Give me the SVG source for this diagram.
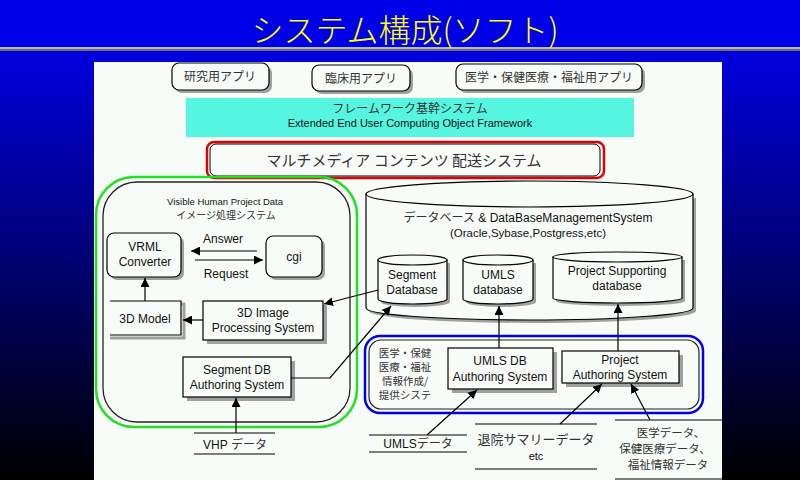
<svg xmlns="http://www.w3.org/2000/svg" width="800" height="480" viewBox="0 0 800 480">
<defs>
<linearGradient id="bg" x1="0" y1="0" x2="0" y2="1">
<stop offset="0" stop-color="#0000e8"/>
<stop offset="0.1" stop-color="#0000e0"/>
<stop offset="1" stop-color="#000000"/>
</linearGradient>
<marker id="ah" viewBox="0 0 10 10" refX="10" refY="5" markerWidth="9" markerHeight="9" markerUnits="userSpaceOnUse" orient="auto">
<path d="M0,0 L10,5 L0,10 Z" fill="#000"/>
</marker>
<style>
.jp{font-family:"Noto Sans CJK JP","Noto Sans",sans-serif;fill:#333;}
.en{font-family:"Liberation Sans",Arial,sans-serif;fill:#111;}
.box{fill:#f8fcf8;stroke:#000;stroke-width:1.2;}
.sh{fill:#a0a0a0;}
.ln{fill:none;stroke:#000;stroke-width:1.2;}
.c{text-anchor:middle;}
</style>
</defs>
<rect x="0" y="0" width="800" height="480" fill="url(#bg)"/>
<rect x="0" y="0" width="800" height="47" fill="#0000e8"/>
<rect x="0" y="47" width="800" height="2" fill="#b8b8b8"/>
<rect x="0" y="49" width="800" height="2" fill="#6c6c6c"/>
<text x="405" y="42" class="c" font-family="'Noto Sans CJK JP',sans-serif" font-size="32" font-weight="300" fill="#ffff00">システム構成(ソフト)</text>
<rect x="94" y="62" width="628" height="418" fill="#f8fcf8"/>

<g id="app1">
<rect x="175" y="66" width="97" height="27" rx="7" class="sh"/>
<rect x="172" y="63" width="97" height="27" rx="7" class="box"/>
<text x="220" y="81" class="jp c" font-size="12">研究用アプリ</text>
</g>
<g id="app2">
<rect x="315" y="68" width="98" height="26" rx="7" class="sh"/>
<rect x="312" y="65" width="98" height="26" rx="7" class="box"/>
<text x="361" y="83" class="jp c" font-size="12">臨床用アプリ</text>
</g>
<g id="app3">
<rect x="459" y="67" width="186" height="26" rx="7" class="sh"/>
<rect x="456" y="64" width="186" height="26" rx="7" class="box"/>
<text x="549" y="82" class="jp c" font-size="12">医学・保健医療・福祉用アプリ</text>
</g>
<g id="framework">
<rect x="186" y="98" width="448" height="39" fill="#55f5e0"/>
<text x="410" y="113" class="jp c" font-size="12">フレームワーク基幹システム</text>
<text x="410" y="127" class="en c" font-size="11">Extended End User Computing Object Framework</text>
</g>
<g id="multimedia">
<rect x="207" y="142" width="397" height="36" rx="7" fill="none" stroke="#e00000" stroke-width="2.5"/>
<rect x="210" y="144" width="390" height="32" rx="6" fill="none" stroke="#000" stroke-width="1"/>
<text x="404" y="166" class="jp c" font-size="15">マルチメディア コンテンツ 配送システム</text>
</g>

<g id="vhp-system">
<rect x="96" y="177" width="261" height="250" rx="38" fill="none" stroke="#22e022" stroke-width="2.5"/>
<rect x="103" y="182" width="247" height="240" rx="34" fill="none" stroke="#222" stroke-width="1.3"/>
<text x="225" y="205" class="en c" font-size="9.5">Visible Human Project Data</text>
<text x="226" y="219" class="jp c" font-size="10">イメージ処理システム</text>
</g>
<g id="vrml">
<rect x="110" y="236" width="74" height="44" rx="7" class="sh"/>
<rect x="107" y="233" width="74" height="44" rx="7" class="box"/>
<text x="145" y="251" class="en c" font-size="12">VRML</text>
<text x="145" y="266" class="en c" font-size="12">Converter</text>
</g>
<g id="cgi">
<rect x="269" y="239" width="56" height="41" rx="7" class="sh"/>
<rect x="266" y="236" width="56" height="41" rx="7" class="box"/>
<text x="294" y="261" class="en c" font-size="12">cgi</text>
</g>
<g id="model3d">
<path d="M110,304 H184 V338 H110" fill="none" stroke="#a0a0a0" stroke-width="3"/>
<rect x="110" y="301" width="71" height="34" fill="#f8fcf8"/>
<path d="M110,301 H181 V335 H110" class="ln"/>
<text x="145" y="323" class="en c" font-size="12">3D Model</text>
</g>
<g id="imgproc">
<rect x="207" y="305" width="120" height="39" class="sh"/>
<rect x="203" y="301" width="120" height="39" class="box"/>
<text x="263" y="317" class="en c" font-size="12">3D Image</text>
<text x="263" y="332" class="en c" font-size="12">Processing System</text>
</g>
<g id="segauth">
<rect x="187" y="361" width="108" height="40" class="sh"/>
<rect x="183" y="357" width="108" height="40" class="box"/>
<text x="237" y="374" class="en c" font-size="12">Segment DB</text>
<text x="237" y="389" class="en c" font-size="12">Authoring System</text>
</g>
<g id="vhpdata">
<line x1="194" y1="433" x2="275" y2="433" stroke="#000" stroke-width="1"/>
<line x1="194" y1="454" x2="275" y2="454" stroke="#000" stroke-width="1"/>
<text x="235" y="449" class="c" font-size="12"><tspan class="en">VHP </tspan><tspan class="jp">データ</tspan></text>
</g>

<g id="database">
<path d="M369,198 V311 A163.5,12 0 0 0 696,311 V198" fill="#a0a0a0"/>
<path d="M366,194 V308 A163.5,12 0 0 0 693,308 V194 Z" fill="#f8fcf8" stroke="#000" stroke-width="1.2"/>
<ellipse cx="529.5" cy="194" rx="163.5" ry="13" fill="#f8fcf8" stroke="#000" stroke-width="1.2"/>
<text x="528" y="222" class="c" font-size="12"><tspan class="jp">データベース</tspan><tspan class="en"> &amp; DataBaseManagementSystem</tspan></text>
<text x="528" y="237" class="en c" font-size="11.5">(Oracle,Sybase,Postgress,etc)</text>
</g>
<g id="segdb">
<path d="M381,263 V302 A34.5,5 0 0 0 450,302 V263 Z" class="sh"/>
<path d="M378,260 V299 A34.5,5 0 0 0 447,299 V260 Z" class="box"/>
<ellipse cx="412.5" cy="260" rx="34.5" ry="5" class="box"/>
<text x="412" y="279" class="en c" font-size="12">Segment</text>
<text x="412" y="294" class="en c" font-size="12">Database</text>
</g>
<g id="umlsdb">
<path d="M466,263 V302 A35,5 0 0 0 536,302 V263 Z" class="sh"/>
<path d="M463,260 V299 A35,5 0 0 0 533,299 V260 Z" class="box"/>
<ellipse cx="498" cy="260" rx="35" ry="5" class="box"/>
<text x="498" y="279" class="en c" font-size="12">UMLS</text>
<text x="498" y="294" class="en c" font-size="12">database</text>
</g>
<g id="projdb">
<path d="M556,260 V301 A64.5,5 0 0 0 685,301 V260 Z" class="sh"/>
<path d="M553,257 V298 A64.5,5 0 0 0 682,298 V257 Z" class="box"/>
<ellipse cx="617.5" cy="257" rx="64.5" ry="5" class="box"/>
<text x="617" y="275" class="en c" font-size="12">Project Supporting</text>
<text x="617" y="290" class="en c" font-size="12">database</text>
</g>

<g id="medical-system">
<rect x="365" y="336" width="338" height="77" rx="15" fill="none" stroke="#0000e8" stroke-width="2.5"/>
<rect x="369" y="340" width="330" height="69" rx="12" fill="none" stroke="#222" stroke-width="1.2"/>
<text class="jp c" font-size="10.5"><tspan x="405" y="357">医学・保健</tspan><tspan x="405" y="371">医療・福祉</tspan><tspan x="405" y="385">情報作成/</tspan><tspan x="405" y="399">提供システ</tspan></text>
</g>
<g id="umlsauth">
<rect x="452" y="352" width="105" height="41" class="sh"/>
<rect x="448" y="348" width="105" height="41" class="box"/>
<text x="500" y="365" class="en c" font-size="12">UMLS DB</text>
<text x="500" y="381" class="en c" font-size="12">Authoring System</text>
</g>
<g id="projauth">
<rect x="566" y="355" width="117" height="32" class="sh"/>
<rect x="562" y="351" width="117" height="32" class="box"/>
<text x="620" y="364" class="en c" font-size="12">Project</text>
<text x="620" y="379" class="en c" font-size="12">Authoring System</text>
</g>
<g id="umlsdata">
<line x1="369" y1="435" x2="467" y2="435" stroke="#000" stroke-width="1"/>
<line x1="369" y1="452" x2="467" y2="452" stroke="#000" stroke-width="1"/>
<text x="418" y="448" class="c" font-size="12"><tspan class="en">UMLS</tspan><tspan class="jp">データ</tspan></text>
</g>
<g id="summary">
<line x1="475" y1="424" x2="597" y2="424" stroke="#000" stroke-width="1"/>
<line x1="475" y1="469" x2="597" y2="469" stroke="#000" stroke-width="1"/>
<text x="536" y="444" class="jp c" font-size="13">退院サマリーデータ</text>
<text x="536" y="460" class="en c" font-size="11">etc</text>
</g>
<g id="meddata">
<line x1="615" y1="420" x2="722" y2="420" stroke="#000" stroke-width="1"/>
<line x1="615" y1="479" x2="722" y2="479" stroke="#000" stroke-width="1"/>
<text class="jp c" font-size="11.5"><tspan x="671" y="437">医学データ、</tspan><tspan x="665" y="453">保健医療データ、</tspan><tspan x="668" y="469">福祉情報データ</tspan></text>
</g>

<g id="connectors" fill="none" stroke="#000" stroke-width="1.2">
<line x1="257" y1="251" x2="191" y2="251" marker-end="url(#ah)"/>
<line x1="195" y1="260" x2="263" y2="260" marker-end="url(#ah)"/>
<line x1="145" y1="301" x2="145" y2="278" marker-end="url(#ah)"/>
<line x1="203" y1="320" x2="183" y2="320" marker-end="url(#ah)"/>
<line x1="378" y1="290" x2="324" y2="304" marker-end="url(#ah)"/>
<polyline points="291,378 330,378 391,306" marker-end="url(#ah)"/>
<line x1="236" y1="433" x2="236" y2="398" marker-end="url(#ah)"/>
<line x1="499" y1="348" x2="499" y2="306" marker-end="url(#ah)"/>
<line x1="618" y1="351" x2="618" y2="304" marker-end="url(#ah)"/>
<line x1="427" y1="435" x2="477" y2="390" marker-end="url(#ah)"/>
<line x1="560" y1="424" x2="602" y2="384" marker-end="url(#ah)"/>
<line x1="650" y1="420" x2="631" y2="384" marker-end="url(#ah)"/>
<text x="223" y="243" class="en c" font-size="12" stroke="none">Answer</text>
<text x="226" y="278" class="en c" font-size="12" stroke="none">Request</text>
</g>
</svg>
